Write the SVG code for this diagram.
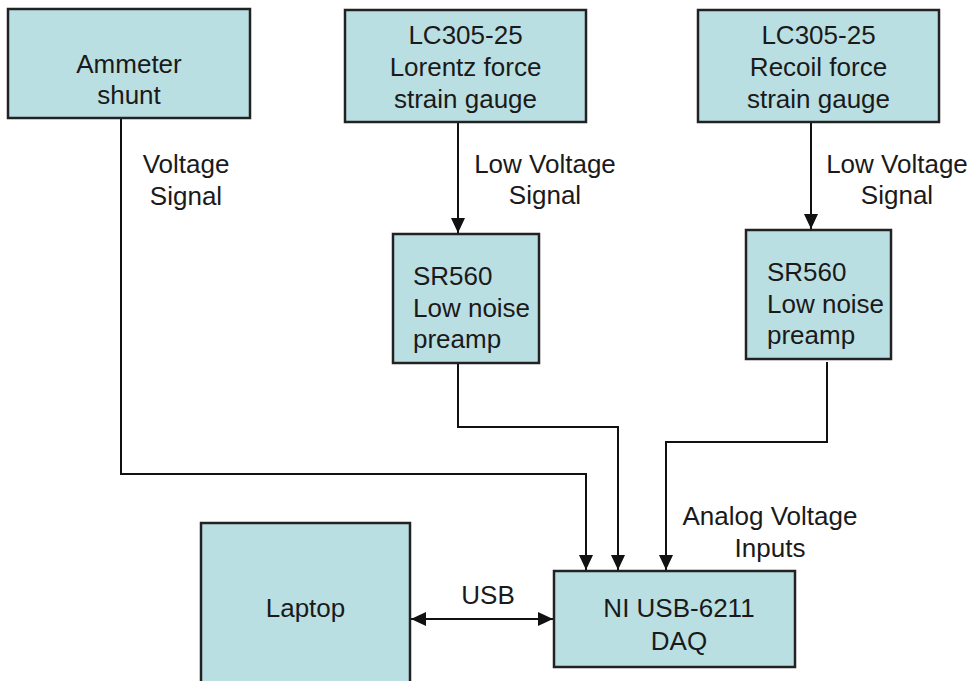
<svg xmlns="http://www.w3.org/2000/svg" width="974" height="681" viewBox="0 0 974 681">
<style>
.box{fill:#badfe2;stroke:#222;stroke-width:2.5}
.t{font-family:"Liberation Sans",Arial,sans-serif;font-size:26px;fill:#1a1a1a}
.c{text-anchor:middle}
.ln{fill:none;stroke:#111;stroke-width:2}
</style>
<defs>
<marker id="ah" markerUnits="userSpaceOnUse" markerWidth="16" markerHeight="14" refX="15" refY="7" orient="auto-start-reverse" viewBox="0 0 16 14">
<path d="M0,0 L15,7 L0,14 z" fill="#111"/>
</marker>
</defs>
<rect width="974" height="681" fill="#fff"/>
<g id="connectors">
<polyline class="ln" points="121,118 121,474 586,474 586,570" marker-end="url(#ah)"/>
<line class="ln" x1="458" y1="122" x2="458" y2="233" marker-end="url(#ah)"/>
<polyline class="ln" points="458,363 458,427 618,427 618,570" marker-end="url(#ah)"/>
<line class="ln" x1="811" y1="122" x2="811" y2="229" marker-end="url(#ah)"/>
<polyline class="ln" points="827,362 827,442 666,442 666,570" marker-end="url(#ah)"/>
<line class="ln" x1="411" y1="619" x2="553" y2="619" marker-start="url(#ah)" marker-end="url(#ah)"/>
<text class="t c" x="186" y="173">Voltage</text>
<text class="t c" x="186" y="205">Signal</text>
<text class="t c" x="545" y="173">Low Voltage</text>
<text class="t c" x="545" y="204">Signal</text>
<text class="t c" x="897" y="173">Low Voltage</text>
<text class="t c" x="897" y="204">Signal</text>
<text class="t c" x="770" y="525">Analog Voltage</text>
<text class="t c" x="770" y="557">Inputs</text>
<text class="t c" x="488" y="604">USB</text>
</g>
<g id="ammeter">
<rect class="box" x="8" y="9" width="242" height="109"/>
<text class="t c" x="129" y="73">Ammeter</text>
<text class="t c" x="129" y="104">shunt</text>
</g>
<g id="lorentz">
<rect class="box" x="345" y="10" width="241" height="112"/>
<text class="t c" x="465.5" y="44">LC305-25</text>
<text class="t c" x="465.5" y="76">Lorentz force</text>
<text class="t c" x="465.5" y="108">strain gauge</text>
</g>
<g id="recoil">
<rect class="box" x="698" y="10" width="241" height="112"/>
<text class="t c" x="818.5" y="44">LC305-25</text>
<text class="t c" x="818.5" y="76">Recoil force</text>
<text class="t c" x="818.5" y="108">strain gauge</text>
</g>
<g id="preamp1">
<rect class="box" x="393" y="234" width="146" height="129"/>
<text class="t" x="413" y="285">SR560</text>
<text class="t" x="413" y="317">Low noise</text>
<text class="t" x="413" y="348">preamp</text>
</g>
<g id="preamp2">
<rect class="box" x="746" y="230" width="145" height="129"/>
<text class="t" x="767" y="281">SR560</text>
<text class="t" x="767" y="313">Low noise</text>
<text class="t" x="767" y="344">preamp</text>
</g>
<g id="laptop">
<rect class="box" x="201" y="523" width="209" height="170"/>
<text class="t c" x="305.5" y="617">Laptop</text>
</g>
<g id="daq">
<rect class="box" x="554" y="571" width="241" height="96"/>
<text class="t c" x="679" y="617">NI USB-6211</text>
<text class="t c" x="679" y="650">DAQ</text>
</g>
</svg>
